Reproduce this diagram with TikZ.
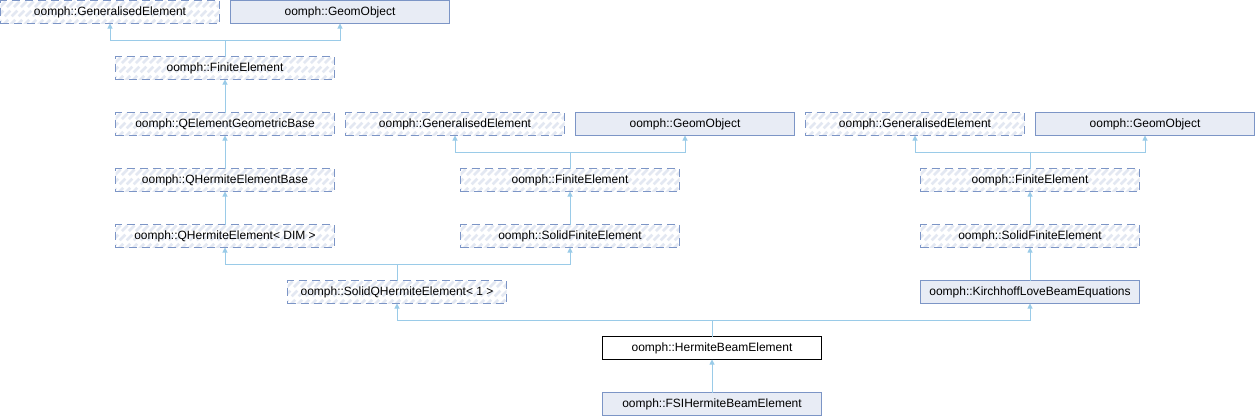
\documentclass[tikz,border=0pt]{standalone}
\usepackage{fontspec}
\setmainfont{Liberation Sans}
\usetikzlibrary{arrows.meta}
\definecolor{bordercol}{HTML}{7C95C6}
\definecolor{fillcol}{HTML}{E8ECF5}
\definecolor{hatchcol}{HTML}{E3E8F2}
\definecolor{edgecol}{HTML}{9ACBE8}
\tikzset{
  cls/.style={rectangle, minimum width=219pt, minimum height=23pt, inner sep=0pt, outer sep=0pt,
    line width=1pt, font=\fontsize{12}{14}\selectfont},
  ghost/.style={cls, draw=bordercol, dash pattern=on 8pt off 5pt, fill=white,
    path picture={\foreach \k in {0,7,...,252}{\draw[hatchcol,line width=2.6pt]
      ([xshift=\k pt-26pt,yshift=-2pt]path picture bounding box.south west) -- ++(27pt,27pt);}}},
  docd/.style={cls, draw=bordercol, fill=fillcol},
  cur/.style={cls, draw=black, fill=white},
  inh/.style={draw=edgecol, line width=1pt, {Triangle[width=5pt,length=5pt]}-},
}
\begin{document}
\begin{tikzpicture}[x=1pt,y=-1pt]
\useasboundingbox (0,0) rectangle (1255,416);
\node[ghost] (GE1) at (110,12) {oomph::GeneralisedElement};
\node[docd]  (GO1) at (340,12) {oomph::GeomObject};
\node[ghost] (FE1) at (225,68) {oomph::FiniteElement};
\node[ghost] (QEGB) at (225,124) {oomph::QElementGeometricBase};
\node[ghost] (GE2) at (455,124) {oomph::GeneralisedElement};
\node[docd]  (GO2) at (685,124) {oomph::GeomObject};
\node[ghost] (GE3) at (915,124) {oomph::GeneralisedElement};
\node[docd]  (GO3) at (1145,124) {oomph::GeomObject};
\node[ghost] (QHEB) at (225,180) {oomph::QHermiteElementBase};
\node[ghost] (FE2) at (570,180) {oomph::FiniteElement};
\node[ghost] (FE3) at (1030,180) {oomph::FiniteElement};
\node[ghost] (QHE) at (225,236) {oomph::QHermiteElement< DIM >};
\node[ghost] (SFE2) at (570,236) {oomph::SolidFiniteElement};
\node[ghost] (SFE3) at (1030,236) {oomph::SolidFiniteElement};
\node[ghost] (SQHE) at (397,292) {oomph::SolidQHermiteElement< 1 >};
\node[docd]  (KLBE) at (1030,292) {oomph::KirchhoffLoveBeamEquations};
\node[cur]   (HBE) at (712,348) {oomph::HermiteBeamElement};
\node[docd]  (FSI) at (712,404) {oomph::FSIHermiteBeamElement};
\coordinate (b1) at (225,40);
\coordinate (b2) at (570,152);
\coordinate (b3) at (1030,152);
\coordinate (b4) at (397,264);
\coordinate (b5) at (712,320);
\draw[inh] (GE1.south) |- (b1) -- (FE1.north);
\draw[inh] (GO1.south) |- (b1);
\draw[inh] (FE1.south) -- (QEGB.north);
\draw[inh] (QEGB.south) -- (QHEB.north);
\draw[inh] (QHEB.south) -- (QHE.north);
\draw[inh] (GE2.south) |- (b2) -- (FE2.north);
\draw[inh] (GO2.south) |- (b2);
\draw[inh] (FE2.south) -- (SFE2.north);
\draw[inh] (GE3.south) |- (b3) -- (FE3.north);
\draw[inh] (GO3.south) |- (b3);
\draw[inh] (FE3.south) -- (SFE3.north);
\draw[inh] (SFE3.south) -- (KLBE.north);
\draw[inh] (QHE.south) |- (b4) -- (SQHE.north);
\draw[inh] (SFE2.south) |- (b4);
\draw[inh] (SQHE.south) |- (b5) -- (HBE.north);
\draw[inh] (KLBE.south) |- (b5);
\draw[inh] (HBE.south) -- (FSI.north);
\end{tikzpicture}
\end{document}
